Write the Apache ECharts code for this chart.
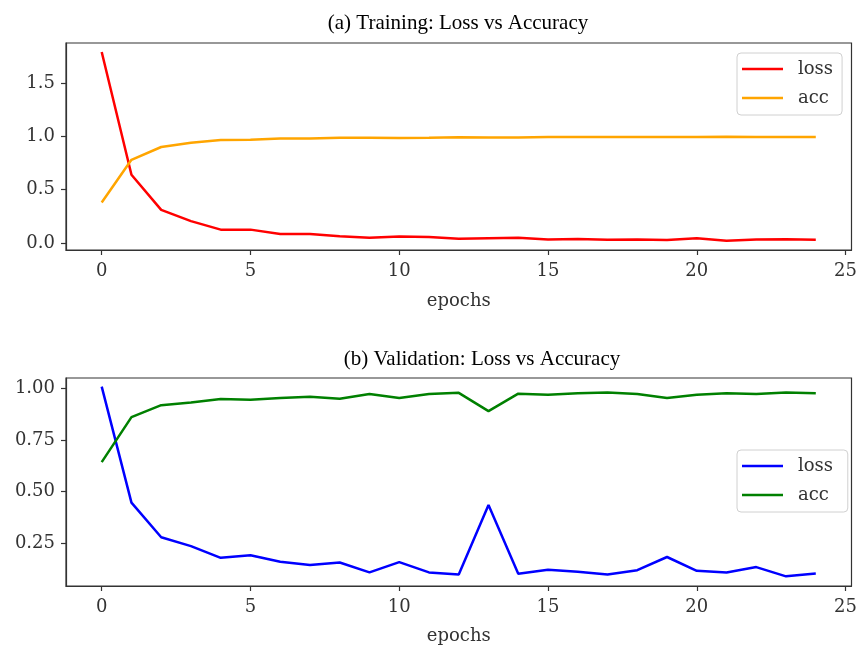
<!DOCTYPE html>
<html>
<head>
<meta charset="utf-8">
<title>Loss vs Accuracy</title>
<script src="https://cdn.jsdelivr.net/npm/echarts@6/dist/echarts.min.js"></script>
<style>
  html, body { margin: 0; padding: 0; background: #fff; }
  #chart { width: 860px; height: 646px; }
</style>
</head>
<body>
<div id="chart"></div>
<script>
// Epoch indices shared by both panels
const epochs = [0, 1, 2, 3, 4, 5, 6, 7, 8, 9, 10, 11, 12, 13, 14, 15, 16, 17, 18, 19, 20, 21, 22, 23, 24];

// (a) training curves
const trainLoss = [1.79, 0.64, 0.31, 0.205, 0.125, 0.125, 0.085, 0.085, 0.062, 0.05, 0.06, 0.057, 0.04, 0.045, 0.048, 0.032, 0.038, 0.03, 0.032, 0.028, 0.045, 0.02, 0.032, 0.034, 0.03];
const trainAcc = [0.38, 0.78, 0.90, 0.94, 0.965, 0.968, 0.98, 0.98, 0.986, 0.987, 0.985, 0.987, 0.991, 0.99, 0.99, 0.993, 0.993, 0.993, 0.994, 0.994, 0.993, 0.996, 0.994, 0.994, 0.994];

// (b) validation curves
const valLoss = [1.01, 0.446, 0.278, 0.235, 0.178, 0.19, 0.159, 0.143, 0.155, 0.107, 0.157, 0.107, 0.097, 0.435, 0.1, 0.12, 0.11, 0.097, 0.118, 0.182, 0.115, 0.107, 0.133, 0.088, 0.102];
const valAcc = [0.643, 0.862, 0.92, 0.933, 0.95, 0.946, 0.955, 0.961, 0.951, 0.974, 0.955, 0.974, 0.98, 0.891, 0.976, 0.971, 0.978, 0.982, 0.974, 0.955, 0.971, 0.978, 0.974, 0.982, 0.978];

// Tick labels
const xTicks = [0, 5, 10, 15, 20, 25];
const yTicksTrain = [0.0, 0.5, 1.0, 1.5];
const yTicksVal = [0.25, 0.50, 0.75, 1.00];

const pairs = (ys) => epochs.map((e, i) => [e, ys[i]]);

const tickFont = 'DejaVu Serif';
const axisColor = '#333';
const labelColor = '#333';

function xAxisFor(gridIndex, nameGap) {
  return {
    type: 'value', gridIndex: gridIndex,
    min: -1.2, max: 25.2,
    name: 'epochs', nameLocation: 'middle', nameGap: nameGap,
    nameTextStyle: { fontFamily: tickFont, fontSize: 18, color: labelColor },
    splitLine: { show: false },
    axisLine: { show: true, onZero: false, lineStyle: { color: axisColor, width: 1.2 } },
    axisTick: { show: true, length: 5, customValues: xTicks, lineStyle: { color: axisColor, width: 1.2 } },
    axisLabel: { customValues: xTicks, margin: 12, fontFamily: tickFont, fontSize: 18, color: labelColor,
                 formatter: (v) => String(v) }
  };
}

function yAxisFor(gridIndex, min, max, ticks, digits) {
  return {
    type: 'value', gridIndex: gridIndex,
    min: min, max: max,
    splitLine: { show: false },
    axisLine: { show: true, onZero: false, lineStyle: { color: axisColor, width: 1.2 } },
    axisTick: { show: true, length: 5, customValues: ticks, lineStyle: { color: axisColor, width: 1.2 } },
    axisLabel: { customValues: ticks, margin: 11, fontFamily: tickFont, fontSize: 18, color: labelColor,
                 formatter: (v) => Number(v).toFixed(digits) }
  };
}

// Legend entries are drawn as short flat bars, like plain line swatches
function legendAt(top, names) {
  return {
    data: names.map(n => ({ name: n, icon: 'rect' })),
    orient: 'vertical',
    left: 737, top: top,
    itemWidth: 41, itemHeight: 2.6, itemGap: 9,
    padding: [6, 9, 7, 5],
    backgroundColor: '#fff',
    borderColor: '#d0d0d0', borderWidth: 1, borderRadius: 4,
    textStyle: { fontFamily: tickFont, fontSize: 18, color: labelColor, lineHeight: 20, height: 20, padding: [0, 0, 0, 10] }
  };
}

function line(name, xi, data, color) {
  return {
    name: name, type: 'line', xAxisIndex: xi, yAxisIndex: xi,
    data: pairs(data), symbol: 'none', animation: false,
    lineStyle: { color: color, width: 2.5 }, itemStyle: { color: color }
  };
}

const chart = echarts.init(document.getElementById('chart'), null, { renderer: 'canvas' });
chart.setOption({
  animation: false,
  backgroundColor: '#fff',
  title: [
    { text: '(a) Training: Loss vs Accuracy', left: 453, top: 8, textAlign: 'center',
      textStyle: { fontFamily: 'Liberation Serif', fontSize: 21, fontWeight: 'normal', color: '#000' } },
    { text: '(b) Validation: Loss vs Accuracy', left: 477, top: 344, textAlign: 'center',
      textStyle: { fontFamily: 'Liberation Serif', fontSize: 21, fontWeight: 'normal', color: '#000' } }
  ],
  grid: [
    { left: 66, right: 6, top: 43, height: 207, show: true, borderColor: axisColor, borderWidth: 1.2, backgroundColor: 'transparent' },
    { left: 66, right: 6, top: 378, height: 208, show: true, borderColor: axisColor, borderWidth: 1.2, backgroundColor: 'transparent' }
  ],
  xAxis: [xAxisFor(0, 42), xAxisFor(1, 41)],
  yAxis: [
    yAxisFor(0, -0.066, 1.875, yTicksTrain, 1),
    yAxisFor(1, 0.041, 1.052, yTicksVal, 2)
  ],
  legend: [
    legendAt(53, ['loss', 'acc']),
    legendAt(450, ['loss ', 'acc '])
  ],
  series: [
    line('loss', 0, trainLoss, '#ff0000'),
    line('acc', 0, trainAcc, '#ffa500'),
    line('loss ', 1, valLoss, '#0000ff'),
    line('acc ', 1, valAcc, '#008000')
  ]
});
</script>
</body>
</html>
